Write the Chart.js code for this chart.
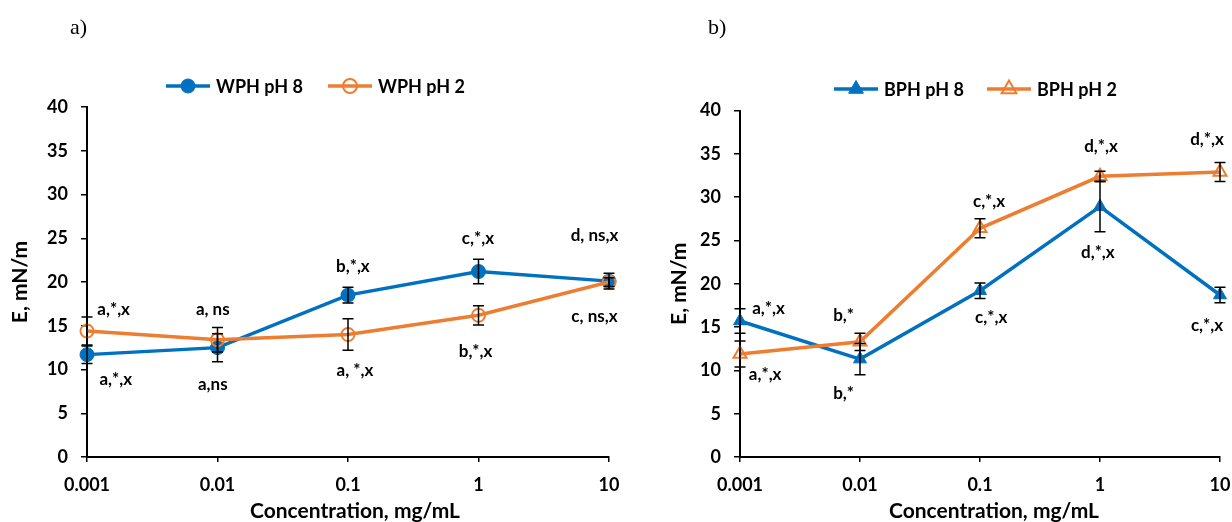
<!DOCTYPE html>
<html>
<head>
<meta charset="utf-8">
<script src="https://cdn.jsdelivr.net/npm/chart.js@4.4.1/dist/chart.umd.min.js"></script>
<style>
  html, body { margin: 0; padding: 0; background: #fff; }
  #wrap { position: relative; width: 1232px; height: 522px; overflow: hidden; }
  .panel { position: absolute; top: 0; height: 522px; }
  .tag { position: absolute; top: 14px; font: 22px "Liberation Serif", serif; color: #000; }
</style>
</head>
<body>
<div id="wrap">
  <div class="panel" style="left:0;width:632px"><canvas id="chartA" width="632" height="522"></canvas></div>
  <div class="panel" style="left:616px;width:616px"><canvas id="chartB" width="616" height="522"></canvas></div>
  <div class="tag" style="left:70px">a)</div>
  <div class="tag" style="left:708px">b)</div>
</div>
<script>
/* ======================================================
   DATA
====================================================== */

const concentrations = [0.001, 0.01, 0.1, 1, 10];
const yTicks = [0, 5, 10, 15, 20, 25, 30, 35, 40];

const wphPh8 = [11.7, 12.5, 18.5, 21.2, 20.1];
const wphPh8Err = [1.0, 1.6, 0.9, 1.4, 0.9];
const wphPh2 = [14.4, 13.4, 14.0, 16.2, 20.0];
const wphPh2Err = [1.6, 1.4, 1.8, 1.1, 0.5];

const bphPh8 = [15.7, 11.3, 19.2, 28.9, 18.7];
const bphPh8Err = [1.4, 1.8, 0.9, 2.9, 0.9];
const bphPh2 = [11.9, 13.3, 26.4, 32.4, 32.9];
const bphPh2Err = [1.5, 1.0, 1.1, 0.6, 1.1];

// significance letters, anchored in data units (concentration, E)
const wphNotes = ["a,*,x", "a,*,x", "a, ns", "a,ns", "b,*,x", "a, *,x", "c,*,x", "b,*,x", "d, ns,x", "c, ns,x"];
const wphNoteX = [0.0016, 0.00166, 0.0092, 0.0092, 0.109, 0.113, 0.99, 0.95, 7.74, 7.74];
const wphNoteY = [16.9, 8.9, 16.9, 8.3, 21.8, 9.9, 25.0, 12.1, 25.3, 16.0];

const bphNotes = ["a,*,x", "a,*,x", "b,*", "b,*", "c,*,x", "c,*,x", "d,*,x", "d,*,x", "d,*,x", "c,*,x"];
const bphNoteX = [0.00173, 0.00162, 0.0073, 0.0073, 0.119, 0.124, 1.02, 0.96, 7.8, 7.8];
const bphNoteY = [17.1, 9.5, 16.3, 7.3, 29.5, 16.1, 35.8, 23.6, 36.6, 15.2];

/* ======================================================
   STYLE
====================================================== */

const BLUE = "#0070C0";
const ORANGE = "#ED7D31";
const FONT = 'Lato, "Open Sans", sans-serif';

/* ======================================================
   PLUGINS
====================================================== */

function drawMarker(ctx, ds, x, y, r) {
  ctx.beginPath();
  if (ds.pointStyle === "triangle") {
    let rad = 0;
    ctx.moveTo(x + Math.sin(rad) * r, y - Math.cos(rad) * r);
    rad += Math.PI * 2 / 3;
    ctx.lineTo(x + Math.sin(rad) * r, y - Math.cos(rad) * r);
    rad += Math.PI * 2 / 3;
    ctx.lineTo(x + Math.sin(rad) * r, y - Math.cos(rad) * r);
    ctx.closePath();
  } else {
    ctx.arc(x, y, r, 0, Math.PI * 2);
  }
  ctx.fillStyle = ds.pointBackgroundColor;
  ctx.fill();
  ctx.lineWidth = ds.pointBorderWidth;
  ctx.strokeStyle = ds.pointBorderColor;
  ctx.stroke();
}

const errorBars = {
  id: "errorBars",
  afterDatasetsDraw(chart) {
    const { ctx, scales } = chart;
    ctx.save();
    ctx.strokeStyle = "#000";
    ctx.lineWidth = 1.5;
    chart.data.datasets.forEach(ds => {
      ds.data.forEach((p, i) => {
        const e = ds.errors[i];
        const x = scales.x.getPixelForValue(p.x);
        const y1 = scales.y.getPixelForValue(p.y + e);
        const y2 = scales.y.getPixelForValue(p.y - e);
        ctx.beginPath();
        ctx.moveTo(x, y1); ctx.lineTo(x, y2);
        ctx.moveTo(x - 5.5, y1); ctx.lineTo(x + 5.5, y1);
        ctx.moveTo(x - 5.5, y2); ctx.lineTo(x + 5.5, y2);
        ctx.stroke();
      });
    });
    ctx.restore();
  }
};

const notes = {
  id: "notes",
  afterDatasetsDraw(chart, args, opts) {
    const { ctx, scales } = chart;
    ctx.save();
    ctx.fillStyle = "#000";
    ctx.font = "bold 17px " + FONT;
    ctx.textAlign = "center";
    ctx.textBaseline = "middle";
    opts.text.forEach((t, i) => {
      ctx.fillText(t, scales.x.getPixelForValue(opts.x[i]), scales.y.getPixelForValue(opts.y[i]));
    });
    ctx.restore();
  }
};

// x-axis title sits a little right of the plot centre in the original
const xTitle = {
  id: "xTitle",
  afterDraw(chart, args, opts) {
    const { ctx, chartArea } = chart;
    ctx.save();
    ctx.fillStyle = "#000";
    ctx.font = "bold 21px " + FONT;
    ctx.textAlign = "center";
    ctx.textBaseline = "middle";
    ctx.fillText(opts.text, (chartArea.left + chartArea.right) / 2 + opts.shift, 511.5);
    ctx.restore();
  }
};

const lineLegend = {
  id: "lineLegend",
  afterDraw(chart, args, opts) {
    const ctx = chart.ctx;
    chart.data.datasets.forEach((ds, i) => {
      const x = opts.x[i];
      ctx.save();
      ctx.strokeStyle = ds.borderColor;
      ctx.lineWidth = 3.5;
      ctx.beginPath();
      ctx.moveTo(x, opts.y); ctx.lineTo(x + 44, opts.y);
      ctx.stroke();
      drawMarker(ctx, ds, x + 22, opts.y, opts.radius);
      ctx.fillStyle = "#000";
      ctx.font = "bold 18px " + FONT;
      ctx.textBaseline = "middle";
      ctx.fillText(ds.label, x + 50, opts.y + 1);
      ctx.restore();
    });
  }
};

/* ======================================================
   CHARTS
====================================================== */

function series(label, values, errors, color, style, filled, radius) {
  return {
    label,
    data: concentrations.map((c, i) => ({ x: c, y: values[i] })),
    errors,
    borderColor: color,
    borderWidth: 3.5,
    pointStyle: style,
    pointRadius: radius,
    pointBackgroundColor: filled ? color : "rgba(0,0,0,0)",
    pointBorderColor: color,
    pointBorderWidth: filled ? 1 : 2,
    clip: false,
    tension: 0
  };
}

function makeChart(id, datasets, cfg) {
  const tickFont = { family: FONT, size: 18, weight: "bold", lineHeight: 1 };
  const titleFont = { family: FONT, size: 21, weight: "bold", lineHeight: 1 };
  return new Chart(document.getElementById(id), {
    type: "line",
    data: { datasets },
    options: {
      responsive: false,
      animation: false,
      layout: { autoPadding: false, padding: { top: cfg.top, right: cfg.right, left: 0, bottom: 0 } },
      plugins: {
        legend: { display: false },
        tooltip: { enabled: false },
        lineLegend: cfg.legend,
        notes: cfg.notes,
        xTitle: { text: "Concentration, mg/mL", shift: cfg.titleShift }
      },
      scales: {
        x: {
          type: "logarithmic",
          min: 0.001,
          max: 10,
          afterBuildTicks: s => { s.ticks = concentrations.map(v => ({ value: v })); },
          afterFit: s => { s.height = 65; s.paddingLeft = 0; s.paddingRight = 0; },
          ticks: { color: "#000", font: tickFont, padding: 14, callback: v => String(v) },
          grid: { drawOnChartArea: false, tickLength: 5, color: "#000", lineWidth: 1.5 },
          border: { color: "#000", width: 2 }
        },
        y: {
          min: 0,
          max: 40,
          afterBuildTicks: s => { s.ticks = yTicks.map(v => ({ value: v })); },
          afterFit: s => { s.width = cfg.axisLeft; s.paddingTop = 0; s.paddingBottom = 0; },
          ticks: { color: "#000", font: tickFont, padding: 13 },
          grid: { drawOnChartArea: false, tickLength: 6, color: "#000", lineWidth: 1.5 },
          border: { color: "#000", width: 2 },
          title: { display: true, text: "E, mN/m", color: "#000", font: titleFont, padding: { top: cfg.titleGap, bottom: 0 } }
        }
      }
    },
    plugins: [errorBars, notes, lineLegend, xTitle]
  });
}

makeChart("chartA", [
  { ...series("WPH pH 8", wphPh8, wphPh8Err, BLUE, "circle", true, 7), order: 2 },
  { ...series("WPH pH 2", wphPh2, wphPh2Err, ORANGE, "circle", false, 6.5), order: 1 }
], {
  top: 107, right: 23, axisLeft: 87, titleGap: 10, titleShift: 7,
  legend: { x: [166, 328], y: 86, radius: 7 },
  notes: { text: wphNotes, x: wphNoteX, y: wphNoteY }
});

makeChart("chartB", [
  { ...series("BPH pH 8", bphPh8, bphPh8Err, BLUE, "triangle", true, 7.5), order: 2 },
  { ...series("BPH pH 2", bphPh2, bphPh2Err, ORANGE, "triangle", false, 7.5), order: 1 }
], {
  top: 110.5, right: 12, axisLeft: 124, titleGap: 53, titleShift: 14,
  legend: { x: [218, 371], y: 89, radius: 8.5 },
  notes: { text: bphNotes, x: bphNoteX, y: bphNoteY }
});
</script>
</body>
</html>
